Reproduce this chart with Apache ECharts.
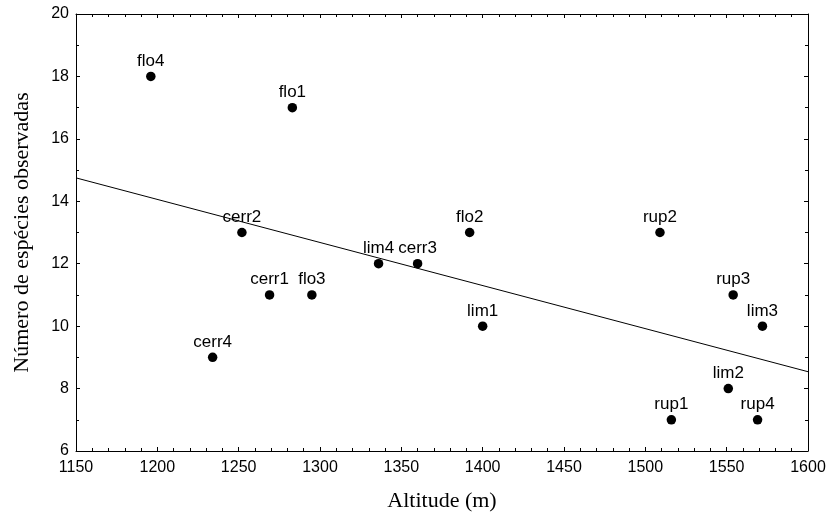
<!DOCTYPE html>
<html><head><meta charset="utf-8">
<script src="https://cdn.jsdelivr.net/npm/echarts@6/dist/echarts.min.js"></script>
<style>html,body{margin:0;padding:0;background:#fff}#c{width:833px;height:517px}</style>
</head><body><div id="c"></div>
<script>
const siteNames = ['flo4','flo1','cerr2','cerr4','cerr1','flo3','lim4','cerr3','flo2','rup2','lim1','rup3','lim3','lim2','rup1','rup4'];
const altitude = [1196,1283,1252,1234,1269,1295,1336,1360,1392,1509,1400,1554,1572,1551,1516,1569];
const species = [18,17,13,9,11,11,12,12,13,13,10,11,10,8,7,7];
const fitX = [1150,1600];
const fitY = [14.75,8.54];

const pts = siteNames.map((n,i)=>({name:n,value:[altitude[i],species[i]]}));
const fit = fitX.map((x,i)=>[x,fitY[i]]);

const chart = echarts.init(document.getElementById('c'));
const tickFont = {fontFamily:'"Liberation Sans", Arial', fontSize:16, color:'#000', formatter:v=>String(v)};
const titleFont = {fontFamily:'"Liberation Serif", "Times New Roman"',fontSize:22,color:'#000'};
const axisLine = {show:true,onZero:false,lineStyle:{color:'#000',width:1}};
const axisTick = {show:true,inside:true,length:4,lineStyle:{color:'#000'}};
const xMinor = {show:true,splitNumber:5,length:3,lineStyle:{color:'#000'}};
const yMinor = {show:true,splitNumber:2,length:3,lineStyle:{color:'#000'}};
chart.setOption({
  animation:false,
  grid:{left:76,right:25,top:14,bottom:66,show:false},
  xAxis:[
    {type:'value',min:1150,max:1600,interval:50,position:'bottom',
      name:'Altitude (m)',nameLocation:'middle',nameGap:39,nameTextStyle:titleFont,
      axisLine,axisTick,minorTick:xMinor,splitLine:{show:false},
      axisLabel:Object.assign({margin:9},tickFont)},
    {type:'value',min:1150,max:1600,interval:50,position:'top',axisLabel:{show:false},
      axisLine,axisTick,minorTick:xMinor,splitLine:{show:false}}
  ],
  yAxis:[
    {type:'value',min:6,max:20,interval:2,position:'left',
      name:'Número de espécies observadas',nameLocation:'middle',nameGap:43,nameTextStyle:titleFont,
      axisLine,axisTick,minorTick:yMinor,splitLine:{show:false},
      axisLabel:Object.assign({margin:7},tickFont)},
    {type:'value',min:6,max:20,interval:2,position:'right',axisLabel:{show:false},
      axisLine,axisTick,minorTick:yMinor,splitLine:{show:false}}
  ],
  series:[
    {type:'line',data:fit,symbol:'none',lineStyle:{color:'#000',width:1},silent:true,z:1},
    {type:'scatter',data:pts,symbol:'circle',symbolSize:9.5,itemStyle:{color:'#000',opacity:1},z:2,
     label:{show:true,position:'top',distance:2,formatter:p=>p.name,
       fontFamily:'"Liberation Sans", Arial',fontSize:17,color:'#000'}}
  ]
});
</script></body></html>
